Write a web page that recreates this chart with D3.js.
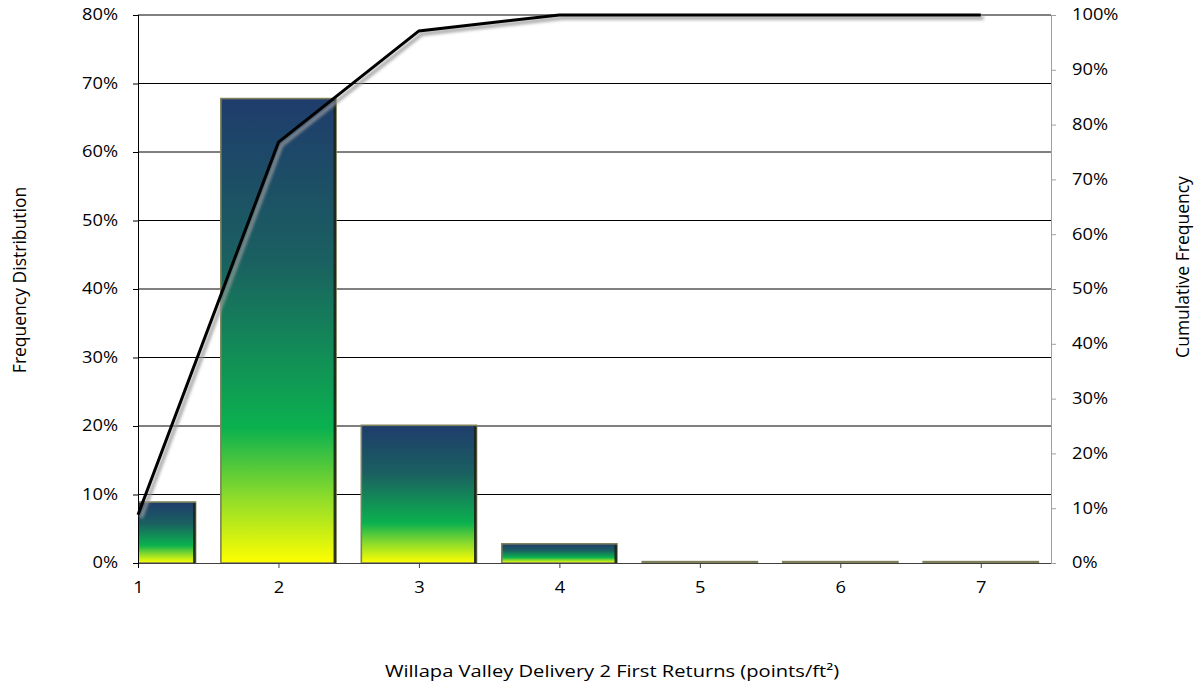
<!DOCTYPE html>
<html><head><meta charset="utf-8">
<script src="https://cdn.jsdelivr.net/npm/d3@7"></script>
<style>body{margin:0;background:#fff}svg{display:block}text{font-family:"Open Sans",sans-serif}</style>
</head><body>
<script>
const categories = [1, 2, 3, 4, 5, 6, 7];
const frequency = [8.9, 67.8, 20.1, 2.8, 0.2, 0.2, 0.2];
const cumulative = [8.8, 76.8, 97.1, 100, 100, 100, 100];
const leftTicks = [0, 10, 20, 30, 40, 50, 60, 70, 80];
const rightTicks = [0, 10, 20, 30, 40, 50, 60, 70, 80, 90, 100];
const xTitle = "Willapa Valley Delivery 2 First Returns (points/ft²)";
const yLeftTitle = "Frequency Distribution";
const yRightTitle = "Cumulative Frequency";

const W = 1199, H = 682;
const L = 138, R = 1051, T = 15, B = 563;
const SX = 1.18;
const svg = d3.select("body").append("svg").attr("width", W).attr("height", H);
const defs = svg.append("defs");
const grad = defs.append("linearGradient").attr("id", "barGrad").attr("x1", 0).attr("y1", 0).attr("x2", 0).attr("y2", 1);
[[0, "#1f3c6c"], [0.35, "#1a6060"], [0.71, "#0bb14f"], [0.86, "#8edc2a"], [1, "#ffff00"]].forEach(([o, c]) =>
  grad.append("stop").attr("offset", o).attr("stop-color", c));
defs.append("clipPath").attr("id", "plotClip").append("rect").attr("x", L).attr("y", T - 5).attr("width", R - L).attr("height", B - T + 10);
const f = defs.append("filter").attr("id", "shadow").attr("x", "-10%").attr("y", "-10%").attr("width", "120%").attr("height", "120%");
f.append("feGaussianBlur").attr("stdDeviation", 1.6);

const x = d3.scaleLinear().domain([1, 7.5]).range([L, R]);
const yL = d3.scaleLinear().domain([0, 80]).range([B, T]);
const yR = d3.scaleLinear().domain([0, 100]).range([B, T]);

// gridlines
svg.append("g").selectAll("line").data(leftTicks.filter(d => d > 0)).join("line")
  .attr("x1", L).attr("x2", R).attr("y1", d => yL(d)).attr("y2", d => yL(d))
  .attr("stroke", "#000").attr("stroke-width", 1);

// bars
const bw = 0.82;
const bars = svg.append("g").attr("clip-path", "url(#plotClip)");
categories.forEach((c, i) => {
  const x0 = x(c - bw / 2), x1 = x(c + bw / 2);
  const y0 = yL(frequency[i]);
  const h = B - y0;
  bars.append("rect").attr("x", x0).attr("y", y0).attr("width", x1 - x0).attr("height", h)
    .attr("fill", "url(#barGrad)").attr("stroke", "#7d8058").attr("stroke-width", 1.6);
  if (h > 4) {
    bars.append("rect").attr("x", x1 - 2.5).attr("y", y0 + 1).attr("width", 2.5).attr("height", h - 1)
      .attr("fill", "#1b2418").attr("opacity", 0.9);
  }
});

// x axis
const xAxis = d3.axisBottom(x).tickValues(categories).tickSize(5).tickFormat(d3.format("d"));
const gx = svg.append("g").attr("transform", `translate(0,${B})`).call(xAxis);
gx.select(".domain").attr("stroke", "#404040").attr("d", `M${L},0.5H${R}`);
gx.selectAll(".tick line").attr("stroke", "#404040");
gx.selectAll(".tick text").attr("font-size", 15.5).attr("fill", "#000").attr("y", 19).attr("dy", "0.71em")
  .attr("transform", `scale(${SX},1)`);

// left axis
const gl = svg.append("g").attr("transform", `translate(${L},0)`)
  .call(d3.axisLeft(yL).tickValues(leftTicks).tickSize(5).tickFormat(d => d + "%"));
gl.select(".domain").attr("stroke", "#000").attr("d", `M0.5,${T}V${B + 5}`);
gl.selectAll(".tick line").attr("stroke", "#000");
gl.selectAll(".tick text").attr("font-size", 15.5).attr("fill", "#000").attr("x", -20 / SX)
  .attr("transform", `scale(${SX},1)`);

// right axis
const gr = svg.append("g").attr("transform", `translate(${R},0)`)
  .call(d3.axisRight(yR).tickValues(rightTicks).tickSize(5).tickFormat(d => d + "%"));
gr.select(".domain").attr("stroke", "#a0a0a0").attr("d", `M0.5,${T}V${B}`);
gr.selectAll(".tick line").attr("stroke", "#a0a0a0");
gr.selectAll(".tick text").attr("font-size", 15.5).attr("fill", "#000").attr("x", 21 / SX)
  .attr("transform", `scale(${SX},1)`);

// cumulative line
const line = d3.line().x((d, i) => x(categories[i])).y(d => yR(d));
svg.append("path").datum(cumulative).attr("d", line).attr("fill", "none")
  .attr("stroke", "#9a9a9a").attr("stroke-width", 4).attr("transform", "translate(3,3)")
  .attr("filter", "url(#shadow)").attr("opacity", 0.8);
svg.append("path").datum(cumulative).attr("d", line).attr("fill", "none")
  .attr("stroke", "#000").attr("stroke-width", 3).attr("stroke-linejoin", "miter");

// titles
svg.append("g").attr("transform", "translate(612,677)")
  .append("text").attr("transform", "scale(1.22,1)").attr("text-anchor", "middle").attr("font-size", 16.5).text(xTitle);
svg.append("text").attr("transform", `translate(26,280) rotate(-90)`).attr("text-anchor", "middle").attr("font-size", 17.5).text(yLeftTitle);
svg.append("text").attr("transform", `translate(1189,267) rotate(-90)`).attr("text-anchor", "middle").attr("font-size", 17.5).text(yRightTitle);
</script>
</body></html>
